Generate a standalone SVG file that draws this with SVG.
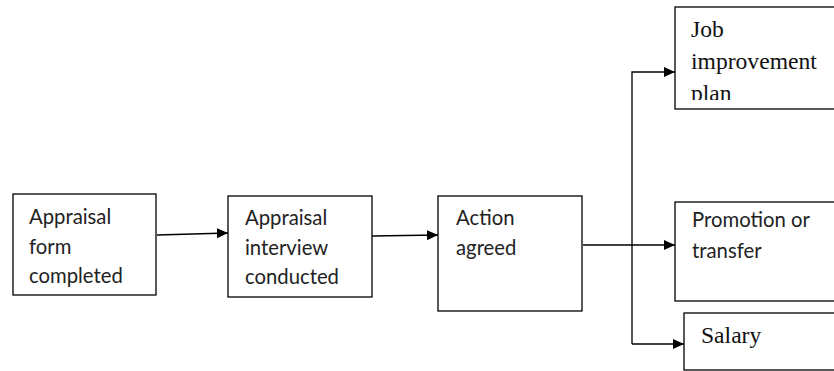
<svg xmlns="http://www.w3.org/2000/svg" width="834" height="371" viewBox="0 0 834 371">
<style>
.box{fill:#fff;stroke:#000;stroke-width:1.3}
.sans{font-family:Lato,"Open Sans",sans-serif;font-size:20.3px;fill:#222}
.serif{font-family:"Liberation Serif","Times New Roman",serif;font-size:23.6px;fill:#111}
.conn{fill:none;stroke:#000;stroke-width:1.3}
</style>
<defs>
<marker id="arr" markerUnits="userSpaceOnUse" markerWidth="12" markerHeight="11" refX="11" refY="5" orient="auto">
<path d="M0,0 L11,5 L0,10 z" fill="#000"/>
</marker>
<clipPath id="jobclip"><rect x="676" y="8" width="160" height="92"/></clipPath>
</defs>
<rect width="834" height="371" fill="#fff"/>
<g id="connectors">
<path class="conn" d="M157,235 L228,233" marker-end="url(#arr)"/>
<path class="conn" d="M372,236 L438,235" marker-end="url(#arr)"/>
<path class="conn" d="M583,245 L675,245" marker-end="url(#arr)"/>
<path class="conn" d="M632,344 L632,72 L675,72" marker-end="url(#arr)"/>
<path class="conn" d="M632,344 L684,344" marker-end="url(#arr)"/>
</g>
<g id="form">
<rect class="box" x="13" y="194" width="143" height="101"/>
<text class="sans" x="29" y="224">Appraisal</text>
<text class="sans" x="29" y="253.5">form</text>
<text class="sans" x="29" y="283">completed</text>
</g>
<g id="interview">
<rect class="box" x="228" y="196" width="144" height="101"/>
<text class="sans" x="245" y="225">Appraisal</text>
<text class="sans" x="245" y="254.5">interview</text>
<text class="sans" x="245" y="284">conducted</text>
</g>
<g id="action">
<rect class="box" x="438" y="196" width="144" height="115"/>
<text class="sans" x="456" y="225">Action</text>
<text class="sans" x="456" y="255">agreed</text>
</g>
<g id="job">
<rect class="box" x="675" y="7" width="170" height="102"/>
<g clip-path="url(#jobclip)">
<text class="serif" x="691" y="37">Job</text>
<text class="serif" x="691" y="69">improvement</text>
<text class="serif" x="691" y="101">plan</text>
</g>
</g>
<g id="promotion">
<rect class="box" x="675" y="202" width="170" height="99"/>
<text class="sans" x="692" y="227">Promotion or</text>
<text class="sans" x="692" y="258">transfer</text>
</g>
<g id="salary">
<rect class="box" x="684" y="313" width="170" height="57"/>
<text class="serif" x="701" y="343">Salary</text>
</g>
</svg>
